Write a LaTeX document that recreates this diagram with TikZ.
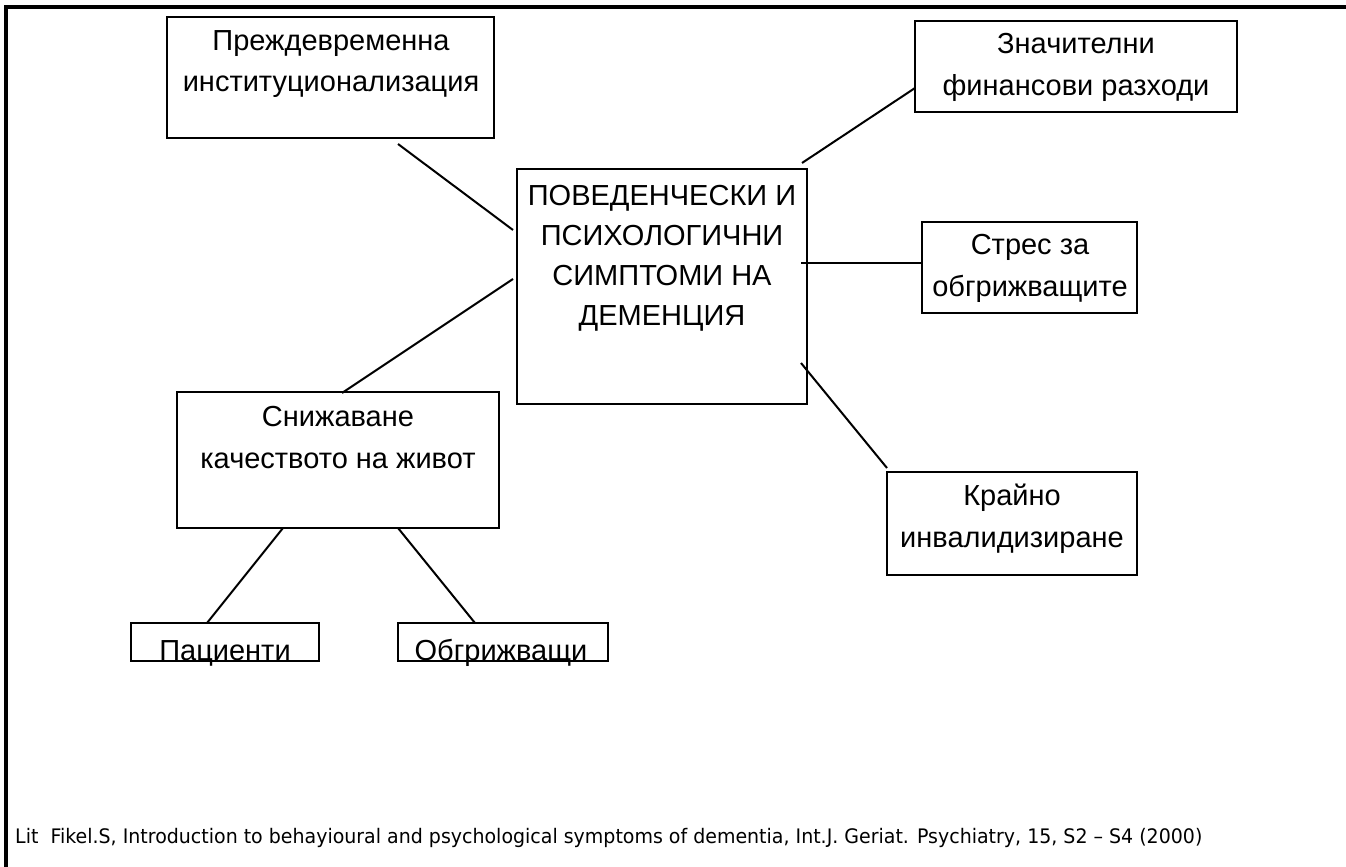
\documentclass[tikz,border=0pt]{standalone}
\usepackage{fontspec}
\setmainfont{Liberation Sans}
\newfontfamily\notefont{DejaVu Sans}
\begin{document}
\begin{tikzpicture}[x=1pt,y=-1pt,
  box/.style={draw, line width=2.3pt, inner sep=0pt, rectangle},
  lbl/.style={anchor=base, align=center, inner sep=0pt, font=\fontsize{29}{41.5}\selectfont},
  conn/.style={line width=2pt},
  frame/.style={line width=3.2pt}]
\useasboundingbox (0,0) rectangle (1346,867);
% outer frame (top and left only)
\coordinate (ftr) at (1346,7);
\coordinate (ftl) at (6,7);
\coordinate (fbl) at (6,867);
\draw[frame] (ftr) -- (ftl) -- (fbl);
% boxes
\node[box, minimum width=327pt, minimum height=121pt] (prej) at (330.5,77.5) {};
\node[box, minimum width=322pt, minimum height=91pt] (fin) at (1076,66.5) {};
\node[box, minimum width=290pt, minimum height=235pt] (main) at (662,286.5) {};
\node[box, minimum width=215pt, minimum height=91pt] (stres) at (1029.5,267.5) {};
\node[box, minimum width=250pt, minimum height=103pt] (kraj) at (1012,523.5) {};
\node[box, minimum width=322pt, minimum height=136pt] (sniz) at (338,460) {};
\node[box, minimum width=188pt, minimum height=38pt] (pac) at (225,642) {};
\node[box, minimum width=210pt, minimum height=38pt] (obg) at (503,642) {};
% texts (anchored at the baseline of the last line)
\node[lbl] (tprej) at (331,92) {Преждевременна\\институционализация};
\node[lbl] (tfin) at (1076,95) {Значителни\\финансови разходи};
\node[lbl, font=\fontsize{29}{40}\selectfont] (tmain) at (662,325) {ПОВЕДЕНЧЕСКИ И\\ПСИХОЛОГИЧНИ\\СИМПТОМИ НА\\ДЕМЕНЦИЯ};
\node[lbl] (tstres) at (1030,296) {Стрес за\\обгрижващите};
\node[lbl] (tkraj) at (1012,547) {Крайно\\инвалидизиране};
\node[lbl] (tsniz) at (338,468) {Снижаване\\качеството на живот};
\node[lbl] (tpac) at (225,660) {Пациенти};
\node[lbl] (tobg) at (501,660) {Обгрижващи};
% connector end points
\coordinate (a1) at (398,144); \coordinate (a2) at (513,230);
\coordinate (b1) at (802,163); \coordinate (b2) at (915,88);
\coordinate (c1) at (801,263); \coordinate (c2) at (922,263);
\coordinate (d1) at (801,363); \coordinate (d2) at (887,468);
\coordinate (e1) at (513,279); \coordinate (e2) at (342,393);
\coordinate (f1) at (283,528); \coordinate (f2) at (207,623);
\coordinate (g1) at (398,528); \coordinate (g2) at (475,623);
\draw[conn] (a1) -- (a2);
\draw[conn] (b1) -- (b2);
\draw[conn] (c1) -- (c2);
\draw[conn] (d1) -- (d2);
\draw[conn] (e1) -- (e2);
\draw[conn] (f1) -- (f2);
\draw[conn] (g1) -- (g2);
% footnote
\node[anchor=base west, inner sep=0pt] (note) at (15,843) {\resizebox{1187pt}{\height}{\notefont\fontsize{20}{24}\selectfont Lit\ \ Fikel.S, Introduction to behayioural and psychological symptoms of dementia, Int.J. Geriat. Psychiatry, 15, S2 – S4 (2000)}};
\end{tikzpicture}
\end{document}
